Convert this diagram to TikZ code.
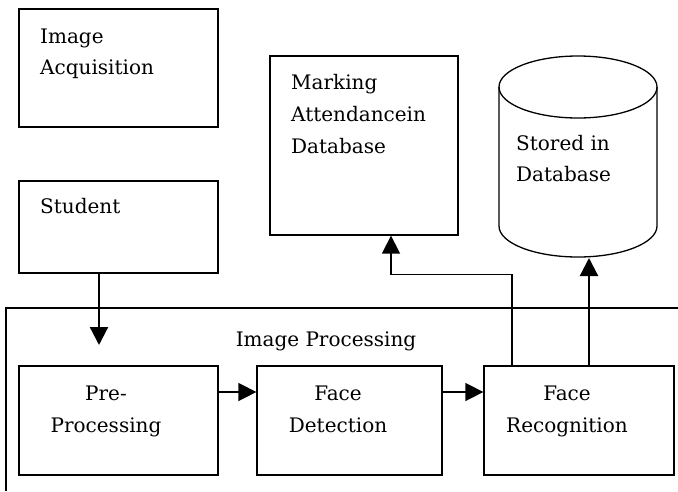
\documentclass[tikz,border=0pt]{standalone}
\usepackage{fontspec}
\setmainfont{DejaVu Serif}
\usetikzlibrary{arrows.meta}
\newcommand{\diagfont}{\fontsize{20}{24}\selectfont}
\begin{document}
\begin{tikzpicture}[x=1pt,y=-1pt,
  box/.style={draw, line width=1.3pt, inner sep=0pt},
  flow/.style={line width=2.2pt, -{Triangle[width=18pt,length=18pt]}},
  thinflow/.style={line width=1.6pt, -{Triangle[width=18pt,length=18pt]}},
  txt/.style={anchor=base west, inner sep=0pt, font=\diagfont},
  ctxt/.style={anchor=base, inner sep=0pt, font=\diagfont}]
\useasboundingbox (0,0) rectangle (678,491);

% container of image processing
\draw[line width=1.2pt] (6,491) -- (6,308) -- (678,308);
\node[ctxt] (iptitle) at (326,346) {Image Processing};

% boxes
\node[box, minimum width=199pt, minimum height=118pt] (acq) at (118.5,68) {};
\node[box, minimum width=199pt, minimum height=92pt] (student) at (118.5,227) {};
\node[box, minimum width=188pt, minimum height=179pt] (mark) at (364,145.5) {};
\node[box, minimum width=199pt, minimum height=109pt] (pre) at (118.5,420.5) {};
\node[box, minimum width=185pt, minimum height=109pt] (fd) at (349.5,420.5) {};
\node[box, minimum width=190pt, minimum height=109pt] (fr) at (579,420.5) {};

% cylinder
\draw[line width=1.3pt] (578,87) ellipse [x radius=79, y radius=31];
\draw[line width=1.3pt] (499,87) -- (499,226) arc[start angle=180, end angle=0, x radius=79, y radius=31] -- (657,87);
\coordinate (cylbot) at (589,258);

% texts
\node[txt] (t1) at (40,43) {Image};
\node[txt] (t2) at (40,74) {Acquisition};
\node[txt] (t3) at (40,213) {Student};
\node[txt] (t4) at (291,89) {Marking};
\node[txt] (t5) at (291,121) {Attendancein};
\node[txt] (t6) at (291,153) {Database};
\node[txt] (t7) at (516,150) {Stored in};
\node[txt] (t8) at (516,181) {Database};
\node[ctxt] (t9) at (106,400) {Pre-};
\node[ctxt] (t10) at (106,432) {Processing};
\node[ctxt] (t11) at (338,400) {Face};
\node[ctxt] (t12) at (338,432) {Detection};
\node[ctxt] (t13) at (567,400) {Face};
\node[ctxt] (t14) at (567,432) {Recognition};

% connectors
\coordinate (prein) at (99,345);
\draw[flow] (student.south -| prein) -- (prein);
\draw[thinflow] ([yshift=28.5pt]pre.east) -- ([yshift=28.5pt]fd.west);
\draw[thinflow] ([yshift=28.5pt]fd.east) -- ([yshift=28.5pt]fr.west);
\draw[thinflow] ([xshift=-67pt]fr.north) |- ([xshift=27pt,yshift=-39pt]mark.south) -- ([xshift=27pt]mark.south);
\draw[flow] ([xshift=10pt]fr.north) -- (cylbot);
\end{tikzpicture}
\end{document}
